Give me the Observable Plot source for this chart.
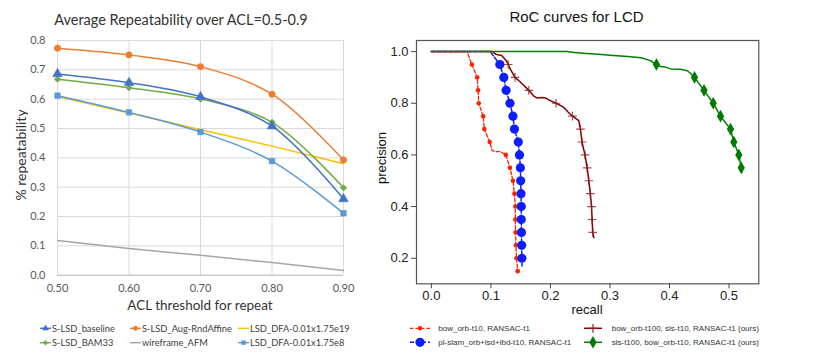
<!DOCTYPE html>
<html><head><meta charset="utf-8">
<script src="https://cdn.jsdelivr.net/npm/d3@7"></script>
<script src="https://cdn.jsdelivr.net/npm/@observablehq/plot@0.6"></script>
<style>
body{margin:0;background:#fff;}
#root{position:relative;width:830px;height:356px;overflow:hidden;background:#fff;}
#root > svg{position:absolute;}
</style></head><body><div id="root"></div>
<script>
// ---------- Left panel data ----------
const aclThresholds = [0.5, 0.6, 0.7, 0.8, 0.9];
const xTickLabelsLeft = [0.5, 0.6, 0.7, 0.8, 0.9];
const yTickLabelsLeft = [0, 0.1, 0.2, 0.3, 0.4, 0.5, 0.6, 0.7, 0.8];
const sLsdBaseline     = [0.686, 0.656, 0.608, 0.508, 0.260];
const sLsdAugRndAffine = [0.774, 0.751, 0.711, 0.617, 0.393];
const sLsdBam33        = [0.668, 0.639, 0.601, 0.521, 0.298];
const wireframeAfm     = [0.118, 0.091, 0.068, 0.043, 0.016];
const lsdDfa175e19     = [0.609, 0.553, 0.496, 0.440, 0.380];
const lsdDfa175e8      = [0.612, 0.555, 0.488, 0.389, 0.211];
const leftSeriesNames  = ["S-LSD_baseline", "S-LSD_Aug-RndAffine", "LSD_DFA-0.01x1.75e19", "S-LSD_BAM33", "wireframe_AFM", "LSD_DFA-0.01x1.75e8"];

// ---------- Right panel data: [recall, precision, marker?] ----------
const rocBowOrbT10 = [[0,1,0],[0.06,1,0],[0.068,0.95,1],[0.077,0.90,1],[0.0785,0.85,1],[0.0795,0.80,1],[0.087,0.75,1],[0.089,0.70,1],[0.098,0.65,1],[0.102,0.617,0],[0.108,0.613,0],[0.116,0.613,0],[0.125,0.60,1],[0.132,0.55,1],[0.137,0.50,1],[0.1395,0.45,1],[0.141,0.40,1],[0.141,0.35,1],[0.1415,0.30,1],[0.142,0.25,1],[0.143,0.20,1],[0.145,0.15,1]];
const rocPlSlam = [[0,1,0],[0.099,1,0],[0.115,0.95,1],[0.1217,0.90,1],[0.1255,0.85,1],[0.132,0.80,1],[0.137,0.75,1],[0.1395,0.70,1],[0.146,0.65,1],[0.148,0.60,1],[0.1495,0.55,1],[0.150,0.50,1],[0.1505,0.45,1],[0.151,0.40,1],[0.151,0.35,1],[0.1513,0.30,1],[0.1517,0.25,1],[0.152,0.20,1],[0.1522,0.17,0]];
const rocBowOrbT100Sls = [[0,1,0],[0.103,1,0],[0.108,0.99,0],[0.118,0.985,0],[0.126,0.965,0],[0.129,0.95,1],[0.133,0.93,0],[0.137,0.915,0],[0.1405,0.90,1],[0.148,0.885,0],[0.155,0.87,0],[0.1636,0.85,1],[0.172,0.828,0],[0.178,0.82,0],[0.186,0.822,0],[0.192,0.82,0],[0.198,0.812,0],[0.2095,0.80,1],[0.222,0.785,0],[0.230,0.765,0],[0.237,0.75,1],[0.2476,0.733,0],[0.2504,0.70,1],[0.253,0.65,1],[0.258,0.60,1],[0.2617,0.55,1],[0.2644,0.50,1],[0.267,0.45,1],[0.269,0.40,1],[0.270,0.35,1],[0.271,0.30,1],[0.273,0.28,0]];
const rocSlsT100 = [[0,1,0],[0.228,1,0],[0.24,0.997,0],[0.26,0.993,0],[0.28,0.99,0],[0.30,0.986,0],[0.33,0.981,0],[0.352,0.976,0],[0.368,0.965,0],[0.378,0.95,1],[0.385,0.942,0],[0.393,0.94,0],[0.402,0.933,0],[0.418,0.932,0],[0.43,0.926,0],[0.435,0.916,0],[0.442,0.90,1],[0.458,0.85,1],[0.4734,0.80,1],[0.4857,0.75,1],[0.5025,0.70,1],[0.508,0.65,1],[0.5165,0.60,1],[0.5205,0.55,1],[0.522,0.535,0]];
const rightSeriesNames = ["bow_orb-t10, RANSAC-t1", "pl-slam_orb+lsd+lbd-t10, RANSAC-t1", "bow_orb-t100, sls-t10, RANSAC-t1  (ours)", "sls-t100, bow_orb-t10, RANSAC-t1  (ours)"];
const xTickLabelsRight = [0, 0.1, 0.2, 0.3, 0.4, 0.5];
const yTickLabelsRight = [0.2, 0.4, 0.6, 0.8, 1.0];

// ---------- Styles ----------
const leftStyles = [
  {vals: sLsdBaseline, color: "#4472C4", symbol: "triangle", r: 3.6},
  {vals: sLsdAugRndAffine, color: "#ED7D31", symbol: "circle", r: 3.2},
  {vals: lsdDfa175e19, color: "#FFC000", symbol: null},
  {vals: sLsdBam33, color: "#70AD47", symbol: "diamond2", r: 3.0},
  {vals: wireframeAfm, color: "#A5A5A5", symbol: null},
  {vals: lsdDfa175e8, color: "#5B9BD5", symbol: "square", r: 3.2}
];
const leftRows = leftStyles.map((s, i) => aclThresholds.map((x, j) => ({x, y: s.vals[j], i})));

const root = document.getElementById("root");

// ---------- Left chart ----------
const leftMarks = [
  Plot.gridY(yTickLabelsLeft, {stroke: "#d9d9d9", strokeOpacity: 1}),
  Plot.gridX(xTickLabelsLeft, {stroke: "#d9d9d9", strokeOpacity: 1}),
  Plot.ruleY([0], {stroke: "#bfbfbf"}),
  Plot.axisX({ticks: xTickLabelsLeft, tickFormat: d3.format(".2f"), tickSize: 0, tickPadding: 9, label: null, fill: "#595959"}),
  Plot.axisY({ticks: yTickLabelsLeft, tickFormat: d3.format(".1f"), tickSize: 0, tickPadding: 12, label: null, fill: "#595959"})
];
// draw order: wireframe, yellow, light blue, green, blue, orange
const order = [4, 2, 5, 3, 0, 1];
for (const i of order) {
  const s = leftStyles[i];
  leftMarks.push(Plot.line(leftRows[i], {x: "x", y: "y", stroke: s.color, strokeWidth: 1.5, curve: "catmull-rom"}));
}
for (const i of order) {
  const s = leftStyles[i];
  if (s.symbol) leftMarks.push(Plot.dot(leftRows[i], {x: "x", y: "y", symbol: s.symbol, r: s.r, fill: s.color, stroke: s.color, strokeWidth: 0.5}));
}
const left = Plot.plot({
  width: 380, height: 300,
  marginLeft: 57, marginRight: 37, marginTop: 40, marginBottom: 25.3,
  x: {domain: [0.5, 0.9]},
  y: {domain: [0, 0.8]},
  style: {fontFamily: "Lato, sans-serif", fontSize: "11px", color: "#595959", background: "transparent"},
  marks: leftMarks
});
left.style.left = "0px"; left.style.top = "0px";
root.appendChild(left);

// ---------- Right chart ----------
const rightStyles = [
  {data: rocBowOrbT10, color: "#ff2200", dash: "3.5,2", width: 1.3, symbol: "circle", r: 2.3, fill: "#ff2200", stroke: "none"},
  {data: rocPlSlam, color: "#0a1eff", dash: "4,2", width: 1.5, symbol: "circle", r: 4.6, fill: "#0a1eff", stroke: "none"},
  {data: rocBowOrbT100Sls, color: "#800000", dash: null, width: 1.5, symbol: "plus", r: 2.9, fill: "none", stroke: "#8a2020"},
  {data: rocSlsT100, color: "#008000", dash: null, width: 1.5, symbol: "diamond", r: 3.1, fill: "#007a00", stroke: "#007a00"}
];
const rightMarks = [];
for (const s of rightStyles) {
  rightMarks.push(Plot.line(s.data, {x: d => d[0], y: d => d[1], stroke: s.color, strokeWidth: s.width, strokeDasharray: s.dash || undefined}));
}
for (const s of rightStyles) {
  rightMarks.push(Plot.dot(s.data.filter(d => d[2]), {x: d => d[0], y: d => d[1], symbol: s.symbol, r: s.r, fill: s.fill, stroke: s.stroke, strokeWidth: 1.2, strokeOpacity: s.symbol === "plus" ? 0.8 : 1}));
}
rightMarks.push(Plot.frame({stroke: "#555", strokeWidth: 1.2}));
rightMarks.push(Plot.axisX({ticks: xTickLabelsRight, tickFormat: d3.format(".1f"), tickSize: 5, tickPadding: 2, label: null, stroke: "#444"}));
rightMarks.push(Plot.axisY({ticks: yTickLabelsRight, tickFormat: d3.format(".1f"), tickSize: 5, tickPadding: 3, label: null, stroke: "#444"}));
const right = Plot.plot({
  width: 450, height: 320,
  marginLeft: 36, marginRight: 71.7, marginTop: 40, marginBottom: 36.7,
  x: {domain: [-0.025, 0.55]},
  y: {domain: [0.101, 1.043]},
  style: {fontFamily: "'Liberation Sans', Arial, sans-serif", fontSize: "13px", color: "#222", background: "transparent"},
  marks: rightMarks
});
right.style.left = "380px"; right.style.top = "0px";
root.appendChild(right);

// ---------- Overlay: titles, axis titles, legends ----------
const ov = d3.select(root).append("svg").attr("width", 830).attr("height", 356).style("left", "0px").style("top", "0px").style("pointer-events", "none");
const lato = "Lato, sans-serif", arial = "'Liberation Sans', Arial, sans-serif";
ov.append("text").attr("x", 181).attr("y", 25).attr("text-anchor", "middle").attr("font-family", lato).attr("font-size", 14.5).attr("fill", "#333").text("Average Repeatability over ACL=0.5-0.9");
ov.append("text").attr("transform", "translate(25.5,155) rotate(-90)").attr("text-anchor", "middle").attr("font-family", lato).attr("font-size", 14).attr("fill", "#333").text("% repeatability");
ov.append("text").attr("x", 200).attr("y", 310).attr("text-anchor", "middle").attr("font-family", lato).attr("font-size", 13.5).attr("fill", "#333").text("ACL threshold for repeat");
ov.append("text").attr("x", 576.5).attr("y", 21.5).attr("text-anchor", "middle").attr("font-family", arial).attr("font-size", 15).attr("fill", "#111").text("RoC curves for LCD");
ov.append("text").attr("x", 587).attr("y", 314).attr("text-anchor", "middle").attr("font-family", arial).attr("font-size", 13).attr("fill", "#111").text("recall");
ov.append("text").attr("transform", "translate(385.5,158) rotate(-90)").attr("text-anchor", "middle").attr("font-family", arial).attr("font-size", 13).attr("fill", "#111").text("precision");

function symbolPath(name, r) {
  const map = {triangle: d3.symbolTriangle, circle: d3.symbolCircle, diamond2: d3.symbolDiamond2, square: d3.symbolSquare, plus: d3.symbolPlus, diamond: d3.symbolDiamond};
  return d3.symbol(map[name], Math.PI * r * r)();
}
// left legend
const leftLegendPos = [[40, 328.3], [130, 328.3], [238, 328.3], [40, 342.7], [130, 342.7], [238, 342.7]];
leftStyles.forEach((s, i) => {
  const [x, y] = leftLegendPos[i];
  const g = ov.append("g").attr("transform", `translate(${x},${y})`);
  g.append("line").attr("x1", 0).attr("x2", 11).attr("stroke", s.color).attr("stroke-width", 1.4);
  if (s.symbol) g.append("path").attr("transform", "translate(5.5,0)").attr("d", symbolPath(s.symbol, 2.2)).attr("fill", s.color).attr("stroke", s.color).attr("stroke-width", 0.5);
  g.append("text").attr("x", 12).attr("y", 3.3).attr("font-family", lato).attr("font-size", 9.3).attr("fill", "#404040").text(leftSeriesNames[i]);
});
// right legend
const rightLegendPos = [[410, 328.3, 20, 438.3], [410, 342.3, 20, 438.3], [584, 328.3, 18, 611.7], [584, 342.3, 18, 611.7]];
rightStyles.forEach((s, i) => {
  const [x, y, len, tx] = rightLegendPos[i];
  const g = ov.append("g").attr("transform", `translate(${x},${y})`);
  g.append("line").attr("x1", 0).attr("x2", len).attr("stroke", s.color).attr("stroke-width", s.width).attr("stroke-dasharray", s.dash);
  g.append("path").attr("transform", `translate(${len / 2},0)`).attr("d", symbolPath(s.symbol, s.r)).attr("fill", s.fill).attr("stroke", s.stroke).attr("stroke-width", 1.2);
  ov.append("text").attr("x", tx).attr("y", y + 2.8).attr("font-family", arial).attr("font-size", 8).attr("fill", "#333").text(rightSeriesNames[i]);
});
</script></body></html>
